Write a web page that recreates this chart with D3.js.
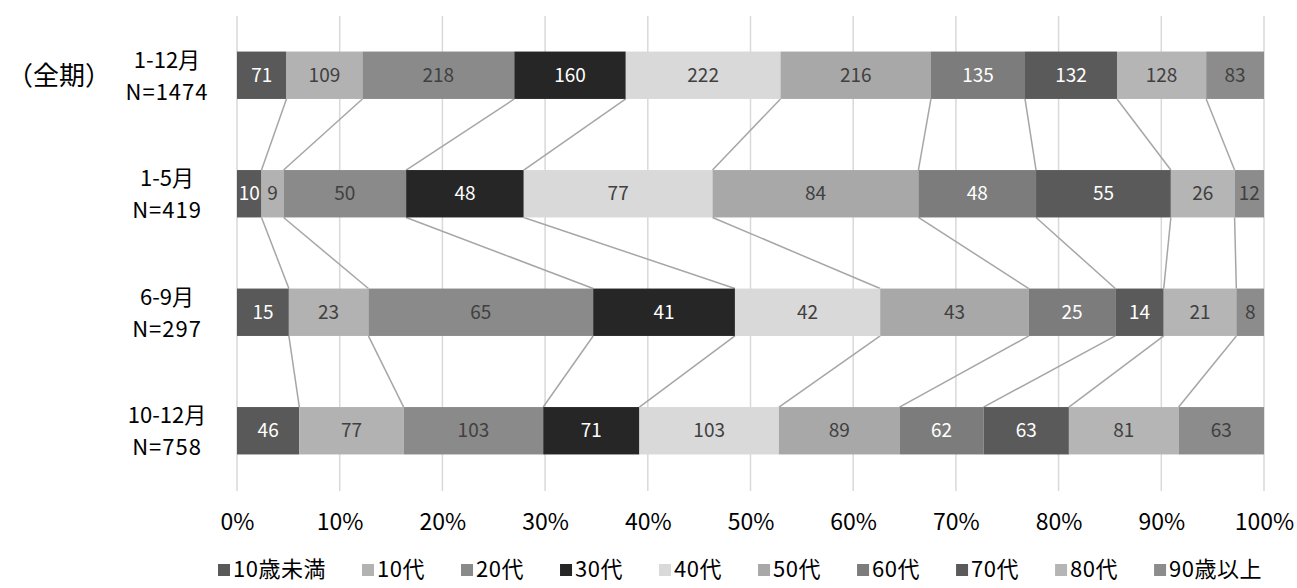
<!DOCTYPE html>
<html>
<head>
<meta charset="utf-8">
<script src="https://cdn.jsdelivr.net/npm/d3@7"></script>
<style>
  html, body { margin: 0; padding: 0; background: #fff; }
  svg { display: block; font-family: "Noto Sans CJK JP", "Noto Sans", sans-serif; }
</style>
</head>
<body>
<svg id="chart" width="1297" height="588"></svg>
<script>
// Periods (rows) and their sample sizes
const periods = ["1-12月", "1-5月", "6-9月", "10-12月"];
const totals = ["N=1474", "N=419", "N=297", "N=758"];

// Age groups (stack order, left to right)
const ageGroups = ["10歳未満", "10代", "20代", "30代", "40代", "50代", "60代", "70代", "80代", "90歳以上"];

// Counts per age group, one array per period
const all12 = [71, 109, 218, 160, 222, 216, 135, 132, 128, 83];
const jan_may = [10, 9, 50, 48, 77, 84, 48, 55, 26, 12];
const jun_sep = [15, 23, 65, 41, 42, 43, 25, 14, 21, 8];
const oct_dec = [46, 77, 103, 71, 103, 89, 62, 63, 81, 63];

const xTicks = [0, 0.1, 0.2, 0.3, 0.4, 0.5, 0.6, 0.7, 0.8, 0.9, 1.0];

const fills = ["#595959", "#b2b2b2", "#8a8a8a", "#262626", "#d9d9d9", "#a8a8a8", "#7c7c7c", "#5a5a5a", "#b5b5b5", "#8c8c8c"];
const labelFills = ["#ffffff", "#404040", "#404040", "#ffffff", "#404040", "#404040", "#ffffff", "#ffffff", "#404040", "#404040"];

const rows = [all12, jan_may, jun_sep, oct_dec];

const svg = d3.select("#chart");

const x = d3.scaleLinear().domain([0, 1]).range([237, 1264]);
const y = d3.scaleBand().domain(periods).range([16, 490]).paddingInner(0.6).paddingOuter(0.3);

// Build stacked proportions for each row
const stacked = rows.map((vals, i) => {
  const sum = d3.sum(vals);
  let acc = 0;
  return vals.map((v, j) => {
    const x0 = acc / sum;
    acc += v;
    return { period: periods[i], group: j, value: v, x0, x1: acc / sum };
  });
});

// Vertical gridlines
svg.append("g")
  .selectAll("line")
  .data(xTicks)
  .join("line")
  .attr("x1", d => x(d)).attr("x2", d => x(d))
  .attr("y1", 16).attr("y2", 491)
  .attr("stroke", "#d9d9d9").attr("stroke-width", 1.5);

// Series connector lines between consecutive bars
const conn = svg.append("g");
for (let i = 0; i < stacked.length - 1; i++) {
  const a = stacked[i], b = stacked[i + 1];
  for (let j = 0; j < ageGroups.length - 1; j++) {
    conn.append("line")
      .attr("x1", x(a[j].x1)).attr("y1", y(periods[i]) + y.bandwidth())
      .attr("x2", x(b[j].x1)).attr("y2", y(periods[i + 1]))
      .attr("stroke", "#a6a6a6").attr("stroke-width", 1.5);
  }
}

// Bars
const barG = svg.append("g");
stacked.forEach(row => {
  barG.selectAll(null)
    .data(row)
    .join("rect")
    .attr("x", d => x(d.x0))
    .attr("y", d => y(d.period))
    .attr("width", d => x(d.x1) - x(d.x0))
    .attr("height", y.bandwidth())
    .attr("fill", d => fills[d.group]);

  barG.selectAll(null)
    .data(row)
    .join("text")
    .attr("x", d => (x(d.x0) + x(d.x1)) / 2)
    .attr("y", d => y(d.period) + y.bandwidth() / 2)
    .attr("dy", "0.35em")
    .attr("text-anchor", "middle")
    .attr("font-size", 19)
    .attr("fill", d => labelFills[d.group])
    .text(d => d.value);
});

// X axis tick labels
const xAxis = d3.axisBottom(x).tickValues(xTicks).tickFormat(d3.format(".0%")).tickSize(0).tickPadding(0);
const xg = svg.append("g").attr("transform", "translate(0,514)").call(xAxis);
xg.select(".domain").remove();
xg.selectAll("text").attr("font-size", 23).attr("fill", "#000")
  .attr("font-family", "\"Noto Sans CJK JP\", \"Noto Sans\", sans-serif");

// Row labels (period + N), two separate lines
const rowLab = svg.append("g");
periods.forEach((p, i) => {
  const cy = y(p) + y.bandwidth() / 2;
  rowLab.append("text")
    .attr("x", 167).attr("y", cy - 15).attr("dy", "0.35em")
    .attr("text-anchor", "middle").attr("font-size", 22).attr("fill", "#000")
    .text(p);
  rowLab.append("text")
    .attr("x", 167).attr("y", cy + 17).attr("dy", "0.35em")
    .attr("text-anchor", "middle").attr("font-size", 22).attr("fill", "#000")
    .attr("letter-spacing", 1)
    .text(totals[i]);
});
rowLab.append("text")
  .attr("x", 7).attr("y", y(periods[0]) + y.bandwidth() / 2 + 1)
  .attr("dy", "0.35em")
  .attr("font-size", 26)
  .attr("fill", "#000")
  .text("（全期）");

// Legend, spread between the left and right legend edges
const legendLeft = 218, legendRight = 1262;
const legend = svg.append("g").attr("transform", "translate(0,569)");
const items = legend.selectAll("g").data(ageGroups).join("g");
items.append("rect").attr("width", 12).attr("height", 12).attr("y", -5)
  .attr("fill", (d, i) => fills[i]);
items.append("text").attr("x", 15).attr("dy", "0.36em")
  .attr("font-size", 22).attr("letter-spacing", 0.5).attr("fill", "#000").text(d => d);
const widths = [];
items.each(function() { widths.push(this.getBBox().width); });
const gap = (legendRight - legendLeft - d3.sum(widths)) / (widths.length - 1);
let cx = legendLeft;
items.attr("transform", (d, i) => {
  const tx = cx;
  cx += widths[i] + gap;
  return `translate(${tx},0)`;
});
</script>
</body>
</html>
